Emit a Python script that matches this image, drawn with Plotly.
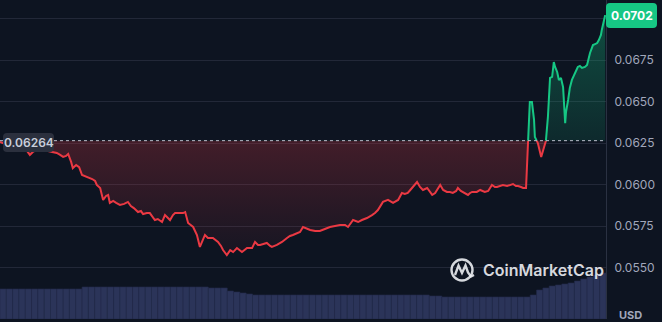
import plotly.graph_objects as go

# ---------------- data ----------------
# time in minutes since start of 24h window, price in USD
minutes = [0, 12, 24, 36, 48, 59, 71, 78, 88, 100, 114, 124, 135, 143, 150, 157, 162, 169, 173, 181,
           188, 195, 202, 209, 219, 226, 230, 238, 245, 252, 257, 261, 269, 276, 285, 295, 304, 311, 318, 328,
           335, 340, 349, 356, 364, 368, 375, 385, 392, 399, 404, 411, 416, 425, 435, 440, 447, 459, 468, 475,
           482, 487, 494, 506, 518, 525, 530, 539, 547, 554, 563, 575, 587, 599, 606, 613, 618, 627, 634, 642,
           646, 658, 670, 682, 689, 696, 706, 713, 720, 729, 737, 749, 760, 772, 784, 796, 808, 820, 827, 839,
           851, 860, 872, 884, 891, 898, 910, 922, 934, 946, 955, 962, 969, 979, 991, 998, 1005, 1015, 1022, 1027,
           1034, 1046, 1053, 1062, 1069, 1076, 1084, 1088, 1095, 1100, 1107, 1112, 1117, 1122, 1133, 1141, 1152, 1160, 1169, 1176,
           1181, 1188, 1195, 1205, 1212, 1219, 1226, 1231, 1238, 1243, 1250, 1252, 1255, 1259, 1264, 1269, 1271, 1278, 1286, 1293,
           1297, 1302, 1307, 1312, 1316, 1319, 1324, 1328, 1333, 1338, 1343, 1345, 1350, 1354, 1359, 1366, 1373, 1378, 1383, 1390,
           1395, 1402, 1409, 1414, 1419, 1423, 1428, 1430, 1438]
price = [0.06256, 0.06244, 0.06232, 0.06238, 0.06232, 0.06220, 0.06178, 0.06196, 0.06208, 0.06202, 0.06202, 0.06196, 0.06190, 0.06178, 0.06166, 0.06172, 0.06184, 0.06136, 0.06099, 0.06117,
         0.06105, 0.06057, 0.06051, 0.06045, 0.06033, 0.06021, 0.05997, 0.05979, 0.05907, 0.05931, 0.05937, 0.05889, 0.05901, 0.05889, 0.05877, 0.05883, 0.05895, 0.05870, 0.05858, 0.05834,
         0.05840, 0.05822, 0.05828, 0.05828, 0.05804, 0.05786, 0.05792, 0.05774, 0.05816, 0.05798, 0.05786, 0.05816, 0.05828, 0.05828, 0.05828, 0.05834, 0.05768, 0.05744, 0.05696, 0.05624,
         0.05666, 0.05696, 0.05678, 0.05678, 0.05654, 0.05630, 0.05605, 0.05575, 0.05605, 0.05593, 0.05617, 0.05593, 0.05617, 0.05617, 0.05654, 0.05636, 0.05636, 0.05642, 0.05648, 0.05630,
         0.05624, 0.05636, 0.05654, 0.05678, 0.05690, 0.05696, 0.05708, 0.05714, 0.05744, 0.05732, 0.05726, 0.05720, 0.05720, 0.05732, 0.05744, 0.05750, 0.05756, 0.05756, 0.05744, 0.05786,
         0.05774, 0.05786, 0.05798, 0.05816, 0.05828, 0.05846, 0.05895, 0.05907, 0.05889, 0.05907, 0.05949, 0.05943, 0.05949, 0.05979, 0.06015, 0.05985, 0.05967, 0.05979, 0.05955, 0.05937,
         0.05949, 0.05997, 0.05967, 0.05955, 0.05955, 0.05949, 0.05961, 0.05979, 0.05961, 0.05955, 0.05943, 0.05937, 0.05949, 0.05955, 0.05955, 0.05967, 0.05955, 0.05961, 0.05997, 0.05985,
         0.05985, 0.05991, 0.05997, 0.05991, 0.05997, 0.06003, 0.05991, 0.05991, 0.05985, 0.05979, 0.05979, 0.06148, 0.06268, 0.06497, 0.06497, 0.06389, 0.06286, 0.06250, 0.06166, 0.06226,
         0.06256, 0.06407, 0.06642, 0.06648, 0.06738, 0.06708, 0.06678, 0.06630, 0.06642, 0.06587, 0.06370, 0.06437, 0.06509, 0.06581, 0.06630, 0.06672, 0.06708, 0.06714, 0.06702, 0.06708,
         0.06720, 0.06792, 0.06840, 0.06846, 0.06852, 0.06870, 0.06901, 0.06931, 0.07020]

open_price = 0.06264
last_price = 0.0702

# volume per 15-minute bucket (thousands)
vol_minutes = [7.5 + 15 * i for i in range(96)]
volume = ([30] * 13 + [32] * 20 + [31, 31, 31] + [28, 27, 26, 25] + [24] * 28 +
          [23, 23] + [22] * 14 + [24, 29, 31] + [33, 34, 35, 36, 38, 40, 42, 44, 46])

tick_vals = [0.0550, 0.0575, 0.0600, 0.0625, 0.0650, 0.0675, 0.0700]
tick_text = ["0.0550", "0.0575", "0.0600", "0.0625", "0.0650", "0.0675", ""]

# ---------------- style ----------------
BG = "#0d1421"
RED = "#ea3943"
GREEN = "#16c784"
GRID = "#222838"
TXT = "#a1a7bb"
FONT = "Inter"

W, H = 662, 322
ML, MR, MT, MB = 0, 56, 0, 3
PW, PH = W - ML - MR, H - MT - MB


def px(x, y):
    return x / PW, 1 - y / PH


def rrect(x0, y0, x1, y1, r):
    def P(x, y):
        a, b = px(x, y)
        return f"{a:.5f},{b:.5f}"
    return (f"M {P(x0 + r, y0)} L {P(x1 - r, y0)} Q {P(x1, y0)} {P(x1, y0 + r)} "
            f"L {P(x1, y1 - r)} Q {P(x1, y1)} {P(x1 - r, y1)} L {P(x0 + r, y1)} "
            f"Q {P(x0, y1)} {P(x0, y1 - r)} L {P(x0, y0 + r)} Q {P(x0, y0)} {P(x0 + r, y0)} Z")


# split series at crossings of the open price
T, V = [], []
for i in range(len(minutes)):
    if i > 0:
        a = price[i - 1] - open_price
        b = price[i] - open_price
        if a * b < 0:
            tc = minutes[i - 1] + (minutes[i] - minutes[i - 1]) * a / (a - b)
            T.append(tc)
            V.append(open_price)
    T.append(minutes[i])
    V.append(price[i])

below = [min(v, open_price) for v in V]
above = [max(v, open_price) for v in V]
red_line = [v if v <= open_price else None for v in V]
green_line = [v if v >= open_price else None for v in V]
base = [open_price] * len(T)

fig = go.Figure()

fig.add_trace(go.Bar(x=vol_minutes, y=volume, yaxis="y2",
                     marker=dict(color="#2b3459", line=dict(width=0.6, color="#222a4a")),
                     width=15, hoverinfo="skip"))

fig.add_trace(go.Scatter(x=T, y=base, mode="lines", line=dict(width=0), hoverinfo="skip"))
fig.add_trace(go.Scatter(x=T, y=below, mode="lines", line=dict(width=0), fill="tonexty",
                         fillgradient=dict(type="vertical", start=min(price), stop=open_price,
                                           colorscale=[[0, "rgba(234,57,67,0.04)"], [1, "rgba(234,57,67,0.24)"]]),
                         hoverinfo="skip"))
fig.add_trace(go.Scatter(x=T, y=base, mode="lines", line=dict(width=0), hoverinfo="skip"))
fig.add_trace(go.Scatter(x=T, y=above, mode="lines", line=dict(width=0), fill="tonexty",
                         fillgradient=dict(type="vertical", start=open_price, stop=max(price),
                                           colorscale=[[0, "rgba(22,199,132,0.12)"], [1, "rgba(22,199,132,0.32)"]]),
                         hoverinfo="skip"))
fig.add_trace(go.Scatter(x=T, y=red_line, mode="lines", line=dict(color=RED, width=2), connectgaps=False,
                         hoverinfo="skip"))
fig.add_trace(go.Scatter(x=T, y=green_line, mode="lines", line=dict(color=GREEN, width=2), connectgaps=False,
                         hoverinfo="skip"))

shapes = [
    dict(type="line", xref="x", yref="y", x0=0, x1=1440, y0=open_price, y1=open_price,
         line=dict(color="#b8bdca", width=1, dash="dot"), layer="above"),
    dict(type="path", xref="paper", yref="paper", path=rrect(3, 133, 54, 152, 4),
         fillcolor="#2b303e", line=dict(width=0), layer="above"),
    dict(type="path", xref="paper", yref="paper", path=rrect(606, 3, 657, 28, 4),
         fillcolor=GREEN, line=dict(width=0), layer="above"),
    # logo circle
    dict(type="circle", xref="paper", yref="paper", xsizemode="pixel", ysizemode="pixel",
         xanchor=462 / PW, yanchor=1 - 270 / PH, x0=-10.5, x1=10.5, y0=-10.5, y1=10.5,
         line=dict(color="rgba(235,237,242,0.9)", width=2.4), layer="above"),
]
wave = [(455, 275), (458.5, 265.5), (462, 273), (465.5, 265.5), (468, 272.5), (471, 276.5), (474, 275)]
wp = "M " + " L ".join("{:.5f},{:.5f}".format(*px(x, y)) for x, y in wave)
shapes.append(dict(type="path", xref="paper", yref="paper", path=wp,
                   line=dict(color="rgba(235,237,242,0.9)", width=2.4), layer="above"))

annotations = [
    dict(xref="paper", yref="paper", x=px(28.5, 0)[0], y=px(0, 142.5)[1], text="0.06264", showarrow=False,
         font=dict(family=FONT, size=12, color="#c9cedb", weight=600), xanchor="center", yanchor="middle"),
    dict(xref="paper", yref="paper", x=px(631.5, 0)[0], y=px(0, 15.5)[1], text="0.0702", showarrow=False,
         font=dict(family=FONT, size=12, color="#ffffff", weight=700), xanchor="center", yanchor="middle"),
    dict(xref="paper", yref="paper", x=px(481, 0)[0], y=px(0, 270)[1], text="CoinMarketCap", showarrow=False,
         font=dict(family=FONT, size=16, color="rgba(235,237,242,0.92)", weight=600), xanchor="left",
         yanchor="middle"),
    dict(xref="paper", yref="paper", x=px(630, 0)[0], y=px(0, 315)[1], text="USD", showarrow=False,
         font=dict(family=FONT, size=11, color=TXT, weight=700), xanchor="center", yanchor="middle"),
]

fig.update_layout(
    width=W, height=H, margin=dict(l=ML, r=MR, t=MT, b=MB),
    paper_bgcolor=BG, plot_bgcolor=BG, showlegend=False, bargap=0,
    xaxis=dict(range=[0, 1440], visible=False, fixedrange=True),
    yaxis=dict(side="right", range=[0.051898, 0.071114], tickvals=tick_vals, ticktext=tick_text,
               showgrid=True, gridcolor=GRID, gridwidth=1, zeroline=False, showline=True,
               linecolor="#2a3142", linewidth=1, ticks="", ticklabelstandoff=5,
               tickfont=dict(family=FONT, size=12, color=TXT), fixedrange=True),
    yaxis2=dict(overlaying="y", range=[0, PH], visible=False, fixedrange=True),
    shapes=shapes, annotations=annotations,
)

fig.write_html("out.html", config={"displayModeBar": False, "staticPlot": True})
